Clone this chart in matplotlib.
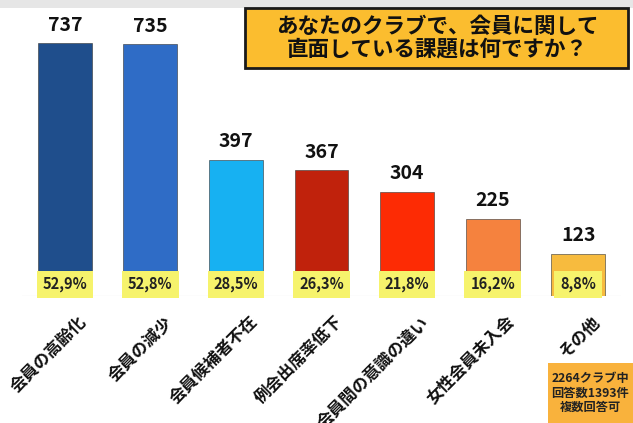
import matplotlib.pyplot as plt
from matplotlib.patches import Rectangle

plt.rcParams['font.family'] = ['Noto Sans CJK JP', 'DejaVu Sans']

categories = ['会員の高齢化', '会員の減少', '会員候補者不在', '例会出席率低下',
              '会員間の意識の違い', '女性会員未入会', 'その他']
counts = [737, 735, 397, 367, 304, 225, 123]
percents = ['52,9%', '52,8%', '28,5%', '26,3%', '21,8%', '16,2%', '8,8%']
colors = ['#1f4e8c', '#2f6cc6', '#17b1f2', '#c0220c', '#fd2b04', '#f5823e', '#f7bb3e']

W, H = 633, 423
fig = plt.figure(figsize=(W / 100, H / 100), dpi=100)
fig.patch.set_facecolor('white')

# thin grey band at top of the slide
fig.patches.append(Rectangle((0, 1 - 8 / H), 1, 8 / H, transform=fig.transFigure,
                             facecolor='#e6e6e6', edgecolor='none', zorder=0))

# axes placed in pixel terms: baseline at y=296, bars 85.6 px apart
ax = fig.add_axes([22 / W, 1 - 296 / H, 599 / W, 296 / H])
ax.set_xlim(-0.5, 6.5)
ax.set_ylim(0, 863)
ax.axis('off')
ax.axhline(0, color='#d9d9d9', linewidth=0.8, zorder=1)

x = range(len(counts))
ax.bar(x, counts, width=0.63, color=colors, edgecolor='#333333', linewidth=0.4, zorder=2)

for i, (c, p) in enumerate(zip(counts, percents)):
    ax.annotate(str(c), (i, c), xytext=(0, 6), textcoords='offset points',
                ha='center', va='bottom', fontsize=14, fontweight='bold', color='#111111')
    ax.text(i, 34, p, ha='center', va='center', fontsize=10.5, fontweight='bold', color='#222222',
            zorder=3, bbox=dict(boxstyle='square,pad=0.4', facecolor='#f6f36c', edgecolor='none'))
    ax.annotate(categories[i], (i, 0), xytext=(9, -12), textcoords='offset points',
                ha='right', va='top', rotation=45, rotation_mode='anchor',
                fontsize=12, fontweight='bold', color='#111111', annotation_clip=False)

# title box
fig.patches.append(Rectangle((245 / W, 1 - 68 / H), 383 / W, 60 / H, transform=fig.transFigure,
                             facecolor='#fbbd2f', edgecolor='#1a1a1a', linewidth=2, zorder=1))
fig.text(437 / W, 1 - 38 / H, 'あなたのクラブで、会員に関して\n直面している課題は何ですか？',
         ha='center', va='center', fontsize=15.5, fontweight='bold', color='#111111',
         linespacing=1.1)

# note box bottom right
fig.patches.append(Rectangle((548 / W, 0), 85 / W, 60 / H, transform=fig.transFigure,
                             facecolor='#f9b23c', edgecolor='none', zorder=1))
fig.text(590 / W, 30 / H, '2264クラブ中\n回答数1393件\n複数回答可',
         ha='center', va='center', fontsize=8.8, fontweight='bold', color='#222222',
         linespacing=1.15)

fig.savefig('out.png', dpi=100)
